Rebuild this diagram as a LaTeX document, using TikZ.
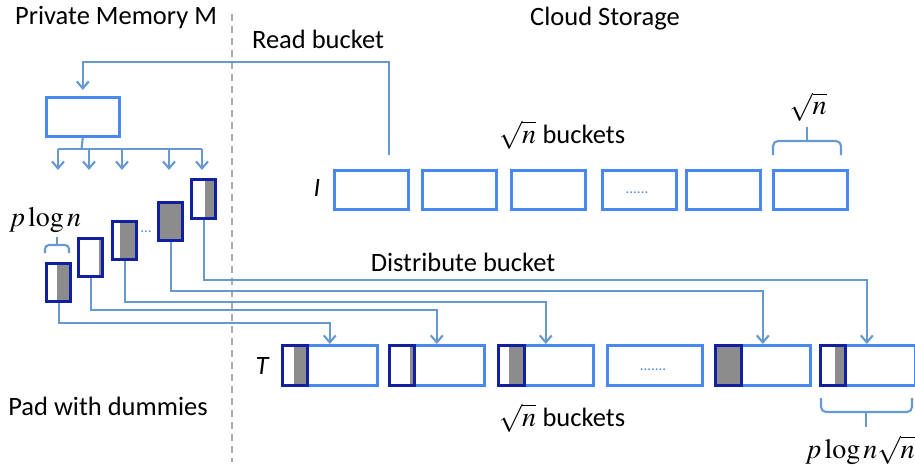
\documentclass[tikz,border=0pt]{standalone}
\usepackage{mathptmx}
\usepackage{fontspec}
\setmainfont{Carlito}
\usetikzlibrary{arrows.meta,calc}
\definecolor{boxblue}{RGB}{74,135,240}
\definecolor{connblue}{RGB}{101,153,208}
\definecolor{navy}{RGB}{16,32,160}
\definecolor{fillgray}{RGB}{140,140,140}
\definecolor{dashgray}{RGB}{170,170,170}
\begin{document}
\begin{tikzpicture}[x=1pt,y=-1pt,
 lbox/.style={draw=boxblue,line width=2.6pt,inner sep=0pt,anchor=north west},
 conn/.style={draw=connblue,line width=2.1pt},
 arr/.style={conn,-{Straight Barb[length=7pt,width=12pt,line width=2.1pt]}},
 dbox/.style={draw=navy,line width=3.4pt,inner sep=0pt,anchor=north west,
   path picture={\fill[fillgray] ([xshift=-#1]path picture bounding box.north east) rectangle (path picture bounding box.south east);}},
 lbl/.style={font=\fontsize{26.5}{30}\selectfont,inner sep=0pt,anchor=base},
 mlbl/.style={font=\fontsize{28}{32}\selectfont,inner sep=0pt,anchor=base},
 dots/.style={font=\fontsize{15}{17}\selectfont,text=boxblue,inner sep=0pt,anchor=base}]
\useasboundingbox (0,0) rectangle (915,468);
% dashed divider
\draw[dashgray,line width=2pt,dash pattern=on 7pt off 5pt] (232,14) -- (232,462);
% labels
\node[lbl] (pm) at (116,25) {Private Memory M};
\node[lbl] (cs) at (605,26) {Cloud Storage};
\node[lbl] (rb) at (318,49) {Read bucket};
\node[mlbl] (nb1) at (562,143) {$\sqrt{n}$ \fontsize{26.5}{30}\selectfont buckets};
\node[mlbl] (sn) at (808,115) {$\sqrt{n}$};
\node[lbl] (il) at (317,196) {\itshape I};
\node[lbl] (db) at (463,271) {Distribute bucket};
\node[mlbl] (pl) at (45,226) {$p\log n$};
\node[lbl] (tl) at (262,374) {\itshape T};
\node[mlbl] (nb2) at (562,426) {$\sqrt{n}$ \fontsize{26.5}{30}\selectfont buckets};
\node[mlbl] (pln) at (860,458) {$p\log n\sqrt{n}$};
\node[lbl] (pd) at (108,415) {Pad with dummies};
% private memory box
\node[lbox,minimum width=73pt,minimum height=39pt] (M) at (45,96) {};
% I boxes
\foreach \n/\x in {1/333,2/421,3/510,4/601,5/685,6/772}
  \node[lbox,minimum width=74pt,minimum height=39pt] (i\n) at (\x,169) {};
\node[dots] (id) at (637,193) {......};
% T boxes
\foreach \n/\x in {1/281,2/388,3/497,4/606,5/714,6/819}
  \node[lbox,minimum width=95pt,minimum height=40pt] (t\n) at (\x,344) {};
\node[dots] (td) at (653,370) {.......};
\node[dbox=14pt,minimum width=25pt,minimum height=40pt] (d1) at (281,344) {};
\node[dbox=5pt,minimum width=25pt,minimum height=40pt] (d2) at (388,344) {};
\node[dbox=16pt,minimum width=26pt,minimum height=40pt] (d3) at (497,344) {};
\node[dbox=26pt,minimum width=26pt,minimum height=40pt] (d5) at (714,344) {};
\node[dbox=11pt,minimum width=25pt,minimum height=40pt] (d6) at (819,344) {};
% small buckets
\node[dbox=14pt,minimum width=24pt,minimum height=38pt] (s1) at (45,262) {};
\node[dbox=4pt,minimum width=24pt,minimum height=38pt] (s2) at (77,237) {};
\node[dbox=17pt,minimum width=24pt,minimum height=38pt] (s3) at (111,220) {};
\node[dbox=24pt,minimum width=24pt,minimum height=38pt] (s4) at (157,201) {};
\node[dbox=11pt,minimum width=24pt,minimum height=39pt] (s5) at (190,178) {};
\node[dots] (sd) at (146,232) {...};
% read bucket connector
\coordinate (rs) at (389,155);
\draw[arr] (rs) -- (389,62) -| ([yshift=6pt]M.north);
% tree
\coordinate (br) at (81.5,149);
\draw[conn] (M.south) -- (br);
\draw[conn] (58,149) -- (202,149);
\foreach \x in {58,89,122,169,202}
  \draw[arr] (\x,149) -- (\x,170);
% distribute connectors
\draw[arr] (s1.south) |- (t1.north |- 0,323) -- (t1.north);
\draw[arr] (s2.south) |- (t2.north |- 0,310) -- (t2.north);
\draw[arr] (s3.south) |- (t3.north |- 0,302) -- (t3.north);
\draw[arr] (s4.south) |- (t5.north |- 0,291) -- (t5.north);
\draw[arr] (s5.south) |- ([xshift=-1pt]t6.north |- 0,280) -- ([xshift=-1pt]t6.north);
% braces
\draw[conn,rounded corners=5pt] (773,155) -- (773,141) -- (841,141) -- (841,155);
\draw[conn] (807,141) -- (807,127);
\draw[conn,rounded corners=4pt] (45,253) -- (45,245) -- (69,245) -- (69,253);
\draw[conn] (57,245) -- (57,237);
\draw[conn,rounded corners=5pt] (821,398) -- (821,412) -- (912,412) -- (912,398);
\draw[conn] (866,412) -- (866,427);
\end{tikzpicture}
\end{document}
